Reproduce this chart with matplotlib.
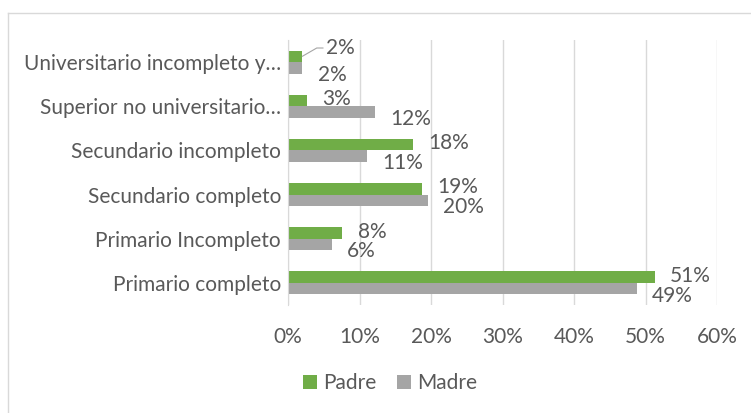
import matplotlib
matplotlib.use('Agg')
import matplotlib.pyplot as plt
import numpy as np

categorias = ['Primario completo', 'Primario Incompleto', 'Secundario completo',
              'Secundario incompleto', 'Superior no universitario\u2026',
              'Universitario incompleto y\u2026']
padre = [51.3, 7.6, 18.8, 17.5, 2.6, 2.0]
madre = [48.8, 6.1, 19.6, 11.0, 12.2, 2.0]
ticks = [0, 10, 20, 30, 40, 50, 60]

verde = '#70AD47'
gris = '#A5A5A5'
texto = '#595959'
fs = 15

plt.rcParams['font.family'] = ['Lato', 'DejaVu Sans']

fig = plt.figure(figsize=(7.51, 4.13), dpi=100)
# borde del area del grafico
fig.add_artist(plt.Line2D([8 / 751, 8 / 751], [0, 1 - 13 / 413], color='#D9D9D9', lw=1))
fig.add_artist(plt.Line2D([8 / 751, 1], [1 - 13 / 413, 1 - 13 / 413], color='#D9D9D9', lw=1))

ax = fig.add_axes([288 / 751, 108 / 413, 429 / 751, 265 / 413])

y = np.arange(len(categorias))
h = 0.26
ax.barh(y + h / 2, padre, height=h, color=verde, label='Padre', zorder=3)
ax.barh(y - h / 2, madre, height=h, color=gris, label='Madre', zorder=3)

for i in range(len(categorias)):
    if i == len(categorias) - 1:
        ax.annotate(f'{round(padre[i])}%', xy=(padre[i], y[i] + h / 2),
                    xytext=(17, 6), textcoords='offset points', va='center',
                    ha='left', fontsize=fs, color=texto,
                    arrowprops=dict(arrowstyle='-', color=gris, lw=0.8,
                                    shrinkA=0, shrinkB=0,
                                    connectionstyle='angle,angleA=0,angleB=30,rad=0'))
    else:
        ax.annotate(f'{round(padre[i])}%', xy=(padre[i], y[i] + h / 2),
                    xytext=(11, 1), textcoords='offset points', va='center',
                    ha='left', fontsize=fs, color=texto)
    ax.annotate(f'{round(madre[i])}%', xy=(madre[i], y[i] - h / 2),
                xytext=(11, -5), textcoords='offset points', va='center',
                ha='left', fontsize=fs, color=texto)

ax.set_xlim(0, 60)
ax.set_ylim(-0.5, len(categorias) - 0.5)
ax.set_xticks(ticks)
ax.set_xticklabels([f'{t}%' for t in ticks])
ax.set_yticks(y)
ax.set_yticklabels(categorias)
ax.tick_params(axis='both', length=0, labelsize=fs, colors=texto)
ax.tick_params(axis='x', pad=16)
ax.tick_params(axis='y', pad=5)
ax.grid(axis='x', color='#D9D9D9', lw=1, zorder=0)
for s in ['top', 'right', 'bottom']:
    ax.spines[s].set_visible(False)
ax.spines['left'].set_color('#D9D9D9')
ax.spines['left'].set_zorder(4)

fig.legend(loc='center', bbox_to_anchor=(390 / 751, 1 - 383 / 413), ncol=2,
           frameon=False, fontsize=fs, handlelength=0.65, handleheight=0.65,
           handletextpad=0.3, columnspacing=1.0, labelcolor=texto)

fig.savefig('out.png', dpi=100)
